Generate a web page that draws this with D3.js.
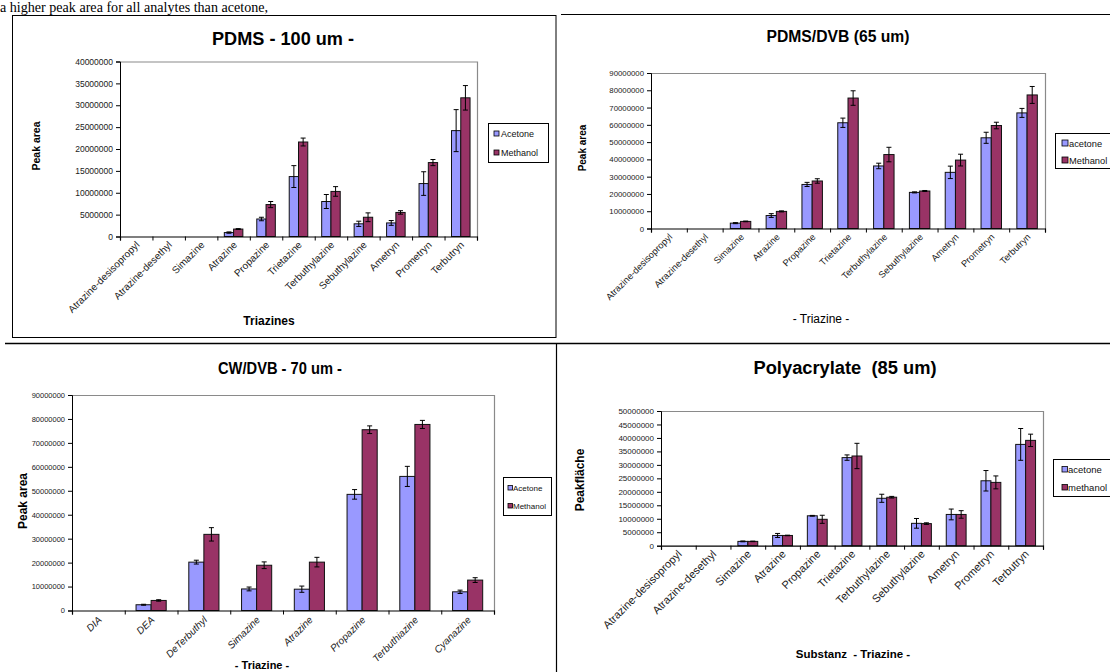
<!DOCTYPE html>
<html>
<head>
<meta charset="utf-8">
<script src="https://cdn.jsdelivr.net/npm/d3@7"></script>
<style>
  html, body { margin: 0; padding: 0; background: #fff; }
  svg { display: block; }
  text { font-family: "Liberation Sans", Arial, Helvetica, sans-serif; white-space: pre; }
</style>
</head>
<body>
<svg id="page" width="1110" height="672"></svg>
<script>
// ---------- categories ----------
const triazines = ["Atrazine-desisopropyl", "Atrazine-desethyl", "Simazine", "Atrazine", "Propazine",
  "Trietazine", "Terbuthylazine", "Sebuthylazine", "Ametryn", "Prometryn", "Terbutryn"];
const cwCategories = ["DIA", "DEA", "DeTerbuthyl", "Simazine", "Atrazine", "Propazine", "Terbuthiazine", "Cyanazine"];

// ---------- PDMS 100 um ----------
const pdmsAcetone     = [0, 0, 0, 900000, 4000000, 13700000, 8000000, 2900000, 3100000, 12100000, 24200000];
const pdmsAcetoneErr  = [0, 0, 0, 150000, 400000, 2500000, 1600000, 600000, 550000, 2700000, 4800000];
const pdmsMethanol    = [0, 0, 0, 1700000, 7300000, 21600000, 10300000, 4400000, 5500000, 16900000, 31700000];
const pdmsMethanolErr = [0, 0, 0, 100000, 700000, 900000, 1100000, 1000000, 400000, 700000, 2800000];
const pdmsYTicks = [0, 5000000, 10000000, 15000000, 20000000, 25000000, 30000000, 35000000, 40000000];

// ---------- PDMS/DVB 65 um ----------
const dvbAcetone     = [0, 0, 3100000, 7500000, 25500000, 61200000, 36200000, 20900000, 32500000, 52500000, 66900000];
const dvbAcetoneErr  = [0, 0, 300000, 1100000, 1200000, 2700000, 1600000, 300000, 3600000, 3200000, 2600000];
const dvbMethanol    = [0, 0, 4100000, 9900000, 27500000, 75500000, 42800000, 21700000, 39600000, 59600000, 77300000];
const dvbMethanolErr = [0, 0, 200000, 300000, 1300000, 4200000, 4200000, 300000, 3400000, 1900000, 4900000];
const dvbYTicks = [0, 10000000, 20000000, 30000000, 40000000, 50000000, 60000000, 70000000, 80000000, 90000000];

// ---------- CW/DVB 70 um ----------
const cwAcetone     = [0, 2400000, 20200000, 9000000, 8900000, 48500000, 56000000, 7800000];
const cwAcetoneErr  = [0, 200000, 800000, 800000, 1300000, 2000000, 4200000, 700000];
const cwMethanol    = [0, 4200000, 31800000, 18900000, 20200000, 75500000, 77700000, 12700000];
const cwMethanolErr = [0, 300000, 2800000, 1400000, 2000000, 1600000, 1700000, 1000000];
const cwYTicks = [0, 10000000, 20000000, 30000000, 40000000, 50000000, 60000000, 70000000, 80000000, 90000000];

// ---------- Polyacrylate 85 um ----------
const polyAcetone     = [0, 0, 1600000, 3800000, 11100000, 32700000, 17600000, 8300000, 11600000, 24100000, 37600000];
const polyAcetoneErr  = [0, 0, 150000, 750000, 150000, 1000000, 1500000, 1800000, 2000000, 3800000, 5900000];
const polyMethanol    = [0, 0, 1600000, 3800000, 9800000, 33300000, 18000000, 8200000, 11600000, 23500000, 39100000];
const polyMethanolErr = [0, 0, 100000, 100000, 1500000, 4700000, 300000, 300000, 1400000, 2400000, 2300000];
const polyYTicks = [0, 5000000, 10000000, 15000000, 20000000, 25000000, 30000000, 35000000, 40000000, 45000000, 50000000];

const ACETONE_FILL = "#9999FF";
const METHANOL_FILL = "#993366";

const svg = d3.select("#page");
svg.append("rect").attr("width", 1110).attr("height", 672).attr("fill", "#fff");

// running text above the figure table
svg.append("text")
  .attr("x", 0).attr("y", 11.5)
  .attr("textLength", 268).attr("lengthAdjust", "spacingAndGlyphs")
  .style("font-family", "'Liberation Serif', 'Times New Roman', serif")
  .style("font-size", "15px")
  .attr("fill", "#000")
  .text("a higher peak area for all analytes than acetone,");

// table rules
const rules = svg.append("g").attr("stroke", "#000").attr("fill", "none");
rules.append("rect").attr("x", 12.5).attr("y", 15.5).attr("width", 543.5).attr("height", 322).attr("stroke-width", 1);
rules.append("line").attr("x1", 561).attr("x2", 1110).attr("y1", 14.5).attr("y2", 14.5).attr("stroke-width", 1.2);
rules.append("line").attr("x1", 5).attr("x2", 1110).attr("y1", 343.5).attr("y2", 343.5).attr("stroke-width", 1.5);
rules.append("line").attr("x1", 556.5).attr("x2", 556.5).attr("y1", 343).attr("y2", 672).attr("stroke-width", 1.2);

function drawPanel(p) {
  const g = svg.append("g");
  const n = p.categories.length;
  const x = d3.scaleBand().domain(p.categories).range([p.left, p.right]).padding(0);
  // two bars per category, gap width 150 %
  const inner = d3.scaleBand().domain(["acetone", "methanol"]).range([0, x.bandwidth()])
    .paddingInner(0).paddingOuter(0.75);
  const y = d3.scaleLinear().domain([0, p.max]).range([p.bottom, p.top]);
  const edge = d3.scaleLinear().domain([0, n]).range([p.left, p.right]);

  // plot-area frame (grey top and right)
  g.append("path")
    .attr("d", `M${p.left},${p.top + 0.5}H${p.right + 0.5}V${p.bottom}`)
    .attr("fill", "none").attr("stroke", "#8a8a8a").attr("stroke-width", 1.2);

  const series = [
    { key: "acetone", vals: p.acetone, err: p.acetoneErr, fill: ACETONE_FILL },
    { key: "methanol", vals: p.methanol, err: p.methanolErr, fill: METHANOL_FILL }
  ];
  const bw = inner.bandwidth();
  series.forEach(s => {
    const rows = p.categories.map((c, i) => ({ c, v: s.vals[i], e: s.err[i] })).filter(d => d.v > 0);
    g.append("g").selectAll("rect").data(rows).join("rect")
      .attr("x", d => x(d.c) + inner(s.key))
      .attr("y", d => y(d.v))
      .attr("width", bw)
      .attr("height", d => y(0) - y(d.v))
      .attr("fill", s.fill)
      .attr("stroke", "#111").attr("stroke-width", 1);
    const eb = g.append("g").attr("stroke", "#000").attr("stroke-width", 1).attr("fill", "none");
    eb.selectAll("path").data(rows.filter(d => d.e > 0)).join("path")
      .attr("d", d => {
        const cx = x(d.c) + inner(s.key) + bw / 2;
        const y1 = y(d.v + d.e), y2 = y(d.v - d.e), h = p.cap / 2;
        return `M${cx},${y1}V${y2}M${cx - h},${y1}H${cx + h}M${cx - h},${y2}H${cx + h}`;
      });
  });

  // y axis
  const ya = g.append("g").attr("transform", `translate(${p.left},0)`)
    .call(d3.axisLeft(y).tickValues(p.yTicks).tickSize(4).tickPadding(3).tickFormat(d => String(d)));
  ya.select(".domain").attr("stroke", "#000");
  ya.selectAll(".tick line").attr("stroke", "#000");
  ya.selectAll(".tick text")
    .attr("fill", "#1a1a1a")
    .style("font-size", p.yFont + "px")
    .style("font-family", "'Liberation Sans', Arial, sans-serif");

  // x axis with ticks on category boundaries
  const xa = g.append("g").attr("transform", `translate(0,${p.bottom})`)
    .call(d3.axisBottom(edge).tickValues(d3.range(n + 1)).tickSize(4).tickFormat(""));
  xa.select(".domain").attr("stroke", "#000").attr("stroke-width", 1.2);
  xa.selectAll(".tick line").attr("stroke", "#000");

  // rotated category labels
  g.append("g").selectAll("text").data(p.categories).join("text")
    .attr("transform", d => `translate(${x(d) + x.bandwidth() / 2 + p.labDx},${p.bottom + p.labDy}) rotate(-45)`)
    .attr("text-anchor", "end")
    .attr("fill", "#1a1a1a")
    .style("font-size", p.xFont + "px")
    .style("font-style", p.xItalic ? "italic" : "normal")
    .text(d => d);

  // title
  g.append("text")
    .attr("x", p.titleX).attr("y", p.titleY)
    .attr("text-anchor", "middle")
    .attr("textLength", p.titleLen).attr("lengthAdjust", "spacingAndGlyphs")
    .style("font-size", p.titleFont + "px").style("font-weight", "bold")
    .attr("fill", "#000")
    .text(p.title);

  // y title
  g.append("text")
    .attr("transform", `translate(${p.yTitleX},${p.yTitleY}) rotate(-90)`)
    .attr("text-anchor", "middle")
    .style("font-size", p.yTitleFont + "px").style("font-weight", "bold")
    .attr("fill", "#000")
    .text(p.yTitle);

  // x title
  g.append("text")
    .attr("x", p.xTitleX).attr("y", p.xTitleY)
    .attr("text-anchor", "middle")
    .style("font-size", p.xTitleFont + "px").style("font-weight", p.xTitleBold ? "bold" : "normal")
    .attr("fill", "#000")
    .text(p.xTitle);

  // legend
  const L = p.legend;
  const lg = g.append("g");
  lg.append("rect").attr("x", L.x + 0.5).attr("y", L.y + 0.5).attr("width", L.w).attr("height", L.h)
    .attr("fill", "#fff").attr("stroke", "#000").attr("stroke-width", 1);
  const items = [{ name: L.names[0], fill: ACETONE_FILL }, { name: L.names[1], fill: METHANOL_FILL }];
  items.forEach((it, i) => {
    const by = L.rowY[i];
    lg.append("rect").attr("x", L.sx).attr("y", by - L.sw).attr("width", L.sw).attr("height", L.sw)
      .attr("fill", it.fill).attr("stroke", "#000").attr("stroke-width", 0.8);
    lg.append("text").attr("x", L.tx).attr("y", by + 0.5)
      .style("font-size", L.font + "px").attr("fill", "#111").text(it.name);
  });
}

drawPanel({
  categories: triazines, acetone: pdmsAcetone, acetoneErr: pdmsAcetoneErr,
  methanol: pdmsMethanol, methanolErr: pdmsMethanolErr, yTicks: pdmsYTicks, max: 40000000,
  left: 120, right: 477, top: 61.5, bottom: 236.5, cap: 5,
  yFont: 8.5, xFont: 10, xItalic: false, labDx: 4, labDy: 9,
  title: "PDMS - 100 um -", titleX: 283, titleY: 45, titleFont: 18, titleLen: 142,
  yTitle: "Peak area", yTitleX: 40, yTitleY: 146, yTitleFont: 10.5,
  xTitle: "Triazines", xTitleX: 269, xTitleY: 325, xTitleFont: 12, xTitleBold: true,
  legend: { x: 488, y: 123, w: 60, h: 39, names: ["Acetone", "Methanol"], rowY: [136, 155],
            sx: 494, sw: 5, tx: 501, font: 9 }
});

drawPanel({
  categories: triazines, acetone: dvbAcetone, acetoneErr: dvbAcetoneErr,
  methanol: dvbMethanol, methanolErr: dvbMethanolErr, yTicks: dvbYTicks, max: 90000000,
  left: 651, right: 1045, top: 73, bottom: 228.5, cap: 5,
  yFont: 7.8, xFont: 9.3, xItalic: false, labDx: 4, labDy: 9,
  title: "PDMS/DVB (65 um)", titleX: 838, titleY: 42, titleFont: 16, titleLen: 143,
  yTitle: "Peak area", yTitleX: 586, yTitleY: 148, yTitleFont: 10,
  xTitle: "- Triazine -", xTitleX: 821, xTitleY: 323, xTitleFont: 12, xTitleBold: false,
  legend: { x: 1055, y: 133, w: 60, h: 35, names: ["acetone", "Methanol"], rowY: [146, 163],
            sx: 1062, sw: 6, tx: 1069, font: 9.3 }
});

drawPanel({
  categories: cwCategories, acetone: cwAcetone, acetoneErr: cwAcetoneErr,
  methanol: cwMethanol, methanolErr: cwMethanolErr, yTicks: cwYTicks, max: 90000000,
  left: 72, right: 494, top: 395, bottom: 610.5, cap: 5,
  yFont: 7.5, xFont: 10, xItalic: true, labDx: 4, labDy: 10,
  title: "CW/DVB - 70 um -", titleX: 280, titleY: 374, titleFont: 17, titleLen: 124,
  yTitle: "Peak area", yTitleX: 27, yTitleY: 501, yTitleFont: 12,
  xTitle: "- Triazine -", xTitleX: 262, xTitleY: 669, xTitleFont: 11, xTitleBold: true,
  legend: { x: 503, y: 477, w: 48, h: 38, names: ["Acetone", "Methanol"], rowY: [490, 508],
            sx: 508, sw: 4.5, tx: 513, font: 8 }
});

drawPanel({
  categories: triazines, acetone: polyAcetone, acetoneErr: polyAcetoneErr,
  methanol: polyMethanol, methanolErr: polyMethanolErr, yTicks: polyYTicks, max: 50000000,
  left: 661, right: 1043, top: 411, bottom: 545.7, cap: 5,
  yFont: 8, xFont: 11, xItalic: false, labDx: 4, labDy: 9,
  title: "Polyacrylate  (85 um)", titleX: 845, titleY: 374, titleFont: 18, titleLen: 183,
  yTitle: "Peakfläche", yTitleX: 584, yTitleY: 480, yTitleFont: 12,
  xTitle: "Substanz  - Triazine -", xTitleX: 853, xTitleY: 658, xTitleFont: 11.5, xTitleBold: true,
  legend: { x: 1053, y: 459, w: 62, h: 37, names: ["acetone", "methanol"], rowY: [472, 490],
            sx: 1062, sw: 5.5, tx: 1068, font: 9.5 }
});
</script>
</body>
</html>
